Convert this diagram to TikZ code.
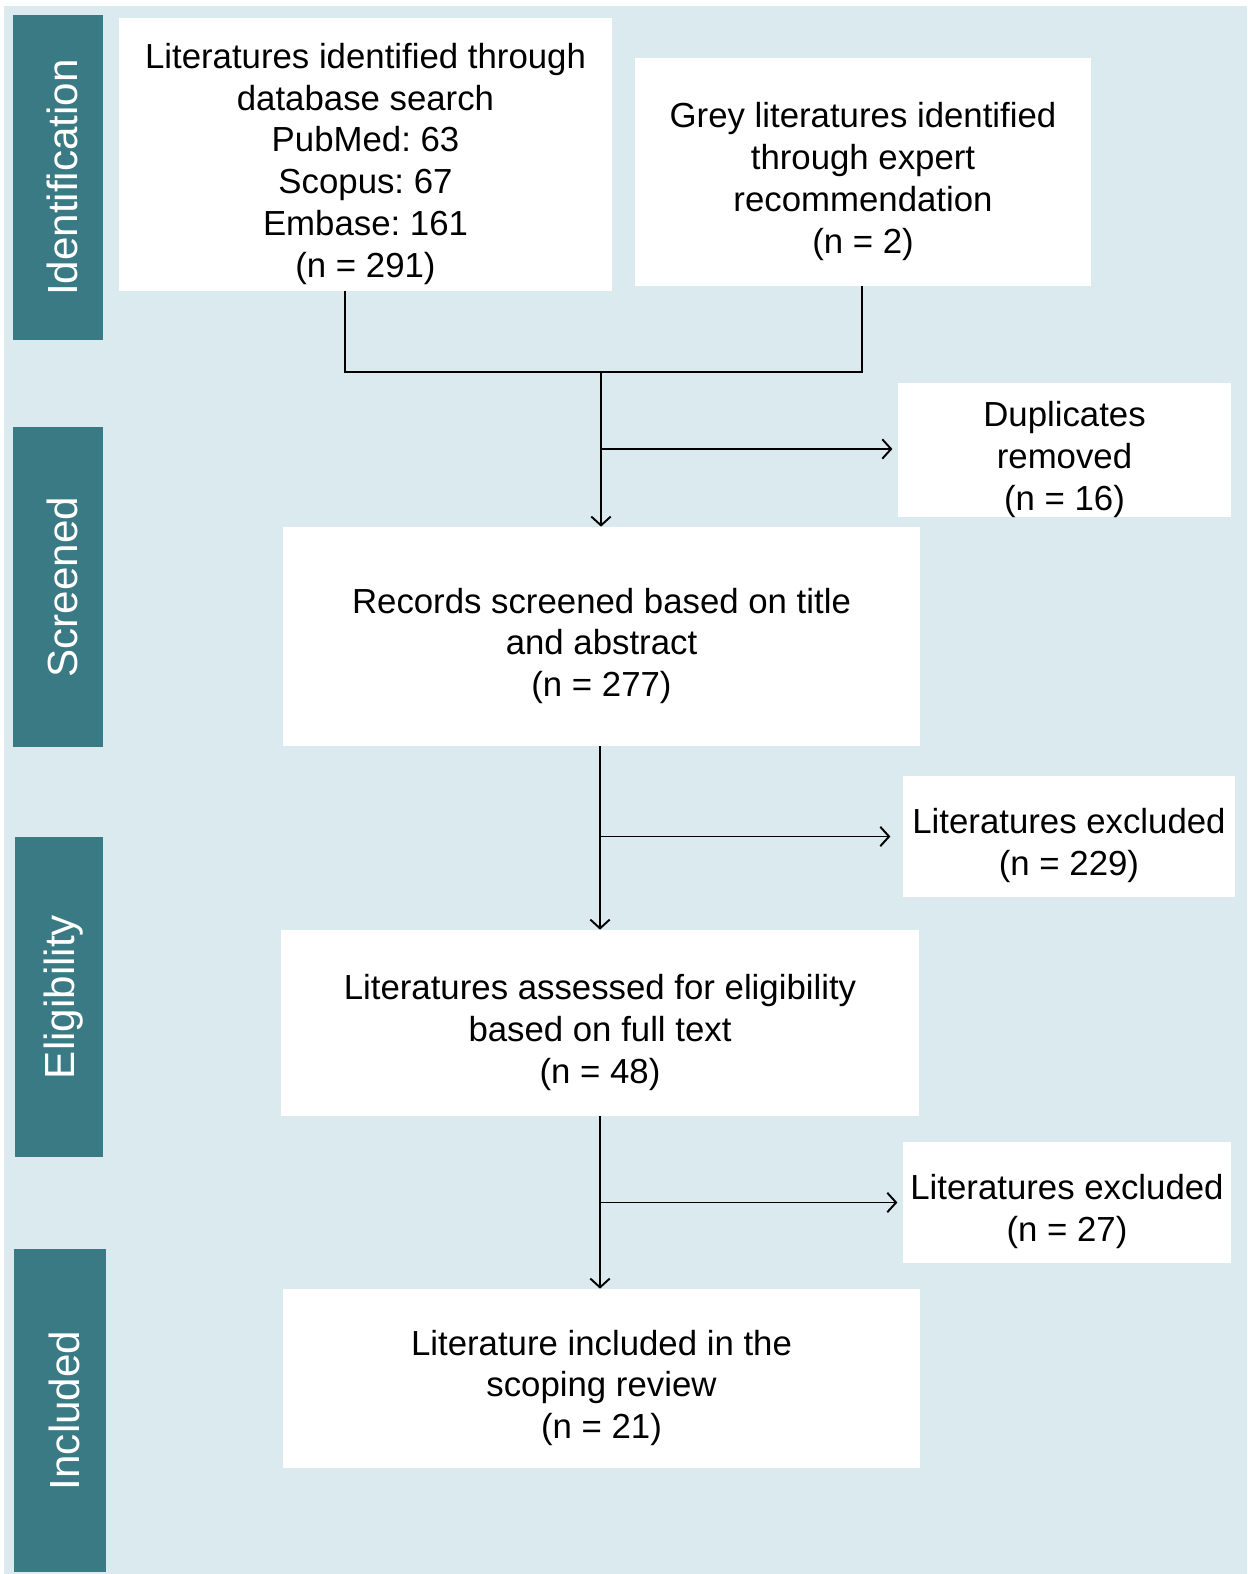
\documentclass[tikz,border=0pt]{standalone}
\usepackage{fontspec}
\setmainfont{Liberation Sans}
\usetikzlibrary{arrows.meta}
\definecolor{paleblue}{HTML}{DBEAEF}
\definecolor{stagecol}{HTML}{3A7A84}
\newcommand{\padtop}{\rule{0pt}{25pt}}
\frenchspacing
\begin{document}
\begin{tikzpicture}[
					x = 0.02cm, y = -0.02cm,
					box/.style = {fill = white, align = center, inner sep = 0pt,
						font = \fontsize{19.8pt}{23.8pt}\selectfont},
					stage/.style = {fill = stagecol, text = white, rotate = 90,
						inner sep = 0pt, font = \fontsize{24pt}{28pt}\selectfont,
						execute at begin node = \rule{0pt}{23pt}},
					>={Straight Barb[length=5pt,width=11pt]}]

					\useasboundingbox (0,0) rectangle (1247,1574);
					\fill[paleblue] (4,6) rectangle (1247,1574);

					\node[stage, minimum width=6.5cm, minimum height=1.8cm] (identification) at (58,177.5) {Identification};
					\node[stage, minimum width=6.4cm, minimum height=1.8cm] (screened) at (58,587) {Screened};
					\node[stage, minimum width=6.4cm, minimum height=1.76cm] (eligibility) at (59,997) {Eligibility};
					\node[stage, minimum width=6.46cm, minimum height=1.84cm] (included) at (60,1410.5) {Included};

					\node[box, minimum width=9.86cm, minimum height=5.46cm] (database) at (365.5,154.5)
						{\padtop Literatures identified through\\database search\\PubMed: 63\\Scopus: 67\\Embase: 161\\(n = 291)};
					\node[box, minimum width=9.12cm, minimum height=4.56cm] (grey) at (863,172)
						{\padtop Grey literatures identified\\through expert\\recommendation\\(n = 2)};
					\node[box, minimum width=6.66cm, minimum height=2.64cm] (duplicates) at (1064.5,450)
						{\padtop Duplicates\\removed\\(n = 16)};
					\node[box, minimum width=12.74cm, minimum height=4.38cm] (screening) at (601.5,636.5)
						{\padtop Records screened based on title\\and abstract\\(n = 277)};
					\node[box, minimum width=6.64cm, minimum height=2.42cm] (excludedA) at (1069,836.5)
						{\padtop Literatures excluded\\(n = 229)};
					\node[box, minimum width=12.76cm, minimum height=3.72cm] (fulltext) at (600,1023)
						{\padtop Literatures assessed for eligibility\\based on full text\\(n = 48)};
					\node[box, minimum width=6.56cm, minimum height=2.42cm] (excludedB) at (1067,1202.5)
						{\padtop Literatures excluded\\(n = 27)};
					\node[box, minimum width=12.74cm, minimum height=3.58cm] (review) at (601.5,1378.5)
						{\padtop Literature included in the\\scoping review\\(n = 21)};

					\coordinate (joinL) at (345,372);
					\coordinate (joinR) at (862,372);
					\coordinate (joinM) at (601,372);
					\coordinate (splitD) at (601,449);

					\draw[line width=1.1pt] (joinL |- database.south) -- (joinL) -- (joinR) -- (joinR |- grey.south);
					\draw[line width=1.1pt,->] (joinM) -- (joinM |- screening.north);
					\draw[line width=1.1pt,->] (splitD) -- ([xshift=-3pt]duplicates.west |- splitD);

					\draw[line width=1.1pt,->] (screening.south -| fulltext.north) -- (fulltext.north);
					\draw[line width=1.1pt,->] (fulltext.north |- excludedA.west) -- ([xshift=-7pt]excludedA.west);

					\draw[line width=1.1pt,->] (fulltext.south) -- (fulltext.south |- review.north);
					\draw[line width=1.1pt,->] (fulltext.south |- excludedB.west) -- ([xshift=-3pt]excludedB.west);

				\end{tikzpicture}
\end{document}
